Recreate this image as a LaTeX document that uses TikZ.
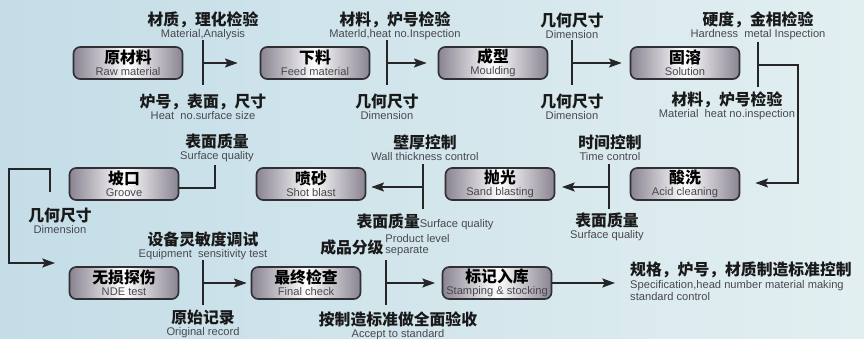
\documentclass[tikz,border=0pt]{standalone}
\usepackage{fontspec}
\setmainfont{Liberation Sans}
\newfontfamily\cjk{Noto Sans CJK SC}
\usetikzlibrary{positioning, calc, arrows.meta}
\definecolor{bgleft}{RGB}{196,221,231}
\definecolor{bgright}{RGB}{226,239,241}
\definecolor{boxedge}{RGB}{138,132,146}
\definecolor{boxline}{RGB}{48,48,52}
\definecolor{lncol}{RGB}{38,38,40}
\definecolor{engray}{RGB}{72,72,78}
\newcommand{\zh}[1]{{\cjk\bfseries\fontsize{13.5}{15}\selectfont #1}}
\newcommand{\en}[1]{{\fontsize{9.5}{10}\selectfont\color{engray}#1}}
\tikzset{
	procbox/.style={draw=boxline, line width=1.4pt, rounded corners=0.2cm, minimum width=3.27cm, minimum height=0.96cm, left color=boxedge, right color=boxedge, middle color=white, align=center, inner sep=0pt, font=\fontsize{9.5}{10.5}\selectfont},
	note/.style={align=center, inner sep=0pt, text=black!90, font=\fontsize{9.5}{10.5}\selectfont},
	link/.style={draw=lncol, line width=1.3pt},
	flow/.style={link, -{Stealth[length=0.38cm, width=0.27cm, inset=0.07cm]}},
}

\begin{document}
\begin{tikzpicture}[x=0.03cm, y=-0.03cm]
		\fill[left color=bgleft, right color=bgright] (0,0) rectangle (864,339);
		\useasboundingbox (0,0) rectangle (864,339);
		
		\node[procbox] (yuancailiao) at (128,63) {\zh{原材料}\\\en{Raw material}};
		\node[procbox] (xialiao) at (315,63) {\zh{下料}\\\en{Feed material}};
		\node[procbox] (chengxing) at (493,63) {\zh{成型}\\\en{Moulding}};
		\node[procbox] (gurong) at (685,63) {\zh{固溶}\\\en{Solution}};
		\node[procbox] (suanxi) at (685,184) {\zh{酸洗}\\\en{Acid cleaning}};
		\node[procbox] (paoguang) at (500,184) {\zh{抛光}\\\en{Sand blasting}};
		\node[procbox] (pensha) at (311,184) {\zh{喷砂}\\\en{Shot blast}};
		\node[procbox] (pokou) at (124,184) {\zh{坡口}\\\en{Groove}};
		\node[procbox] (wusun) at (124,283) {\zh{无损探伤}\\\en{NDE test}};
		\node[procbox] (zuizhong) at (306,283) {\zh{最终检查}\\\en{Final check}};
		\node[procbox] (biaoji) at (497,283) {\zh{标记入库}\\\en{Stamping \& stocking}};
		
		\coordinate (j1) at (203,63);
		\coordinate (j2) at (387,63);
		\coordinate (j3) at (572,63);
		\coordinate (j4) at (758,65);
		\coordinate (j5) at (609,187);
		\coordinate (j6) at (423,187);
		\coordinate (j7) at (203,283);
		\coordinate (j8) at (386,283);
		\foreach \j in {j1,j2,j3,j4,j5,j6,j7,j8}
			\draw[link] ($(\j)+(0,-23)$) -- ($(\j)+(0,22)$);
		
		\draw[flow, shorten >=0.66cm] (j1) -- (xialiao);
		\draw[flow, shorten >=0.33cm] (j2) -- (chengxing);
		\draw[flow, shorten >=0.24cm] (j3) -- (gurong);
		\coordinate (r1) at (798,183);
		\draw[flow, shorten >=0.45cm] (j4) -| (r1) -- (suanxi.east |- r1);
		\draw[flow, shorten >=0.2cm] (j5) -- (paoguang.east |- j5);
		\draw[flow, shorten >=0.15cm] (j6) -- (pensha.east |- j6);
		\coordinate (p1) at (215,165);
		\draw[link] ($(pokou.east)+(0,4)$) -| (p1);
		\coordinate (l1) at (50,192);
		\coordinate (l2) at (9,169);
		\coordinate (l3) at (55,263);
		\draw[flow] (l1) |- (l2) |- (l3);
		\draw[flow, shorten >=0.12cm] (j7) -- (zuizhong);
		\draw[flow, shorten >=0.2cm] (j8) -- (biaoji);
		\coordinate (e1) at (615,283);
		\draw[flow] (biaoji) -- (e1);
		
		\node[note] (t1) at (203,26) {\zh{材质，理化检验}\\\en{Material,Analysis}};
		\node[note] (b1) at (203,107) {\zh{炉号，表面，尺寸}\\\en{Heat\ \ no.surface size}};
		\node[note] (t2) at (395,26) {\zh{材料，炉号检验}\\\en{Materld,heat no.Inspection}};
		\node[note] (b2) at (387,107) {\zh{几何尺寸}\\\en{Dimension}};
		\node[note] (t3) at (572,26) {\zh{几何尺寸}\\\en{Dimension}};
		\node[note] (b3) at (572,107) {\zh{几何尺寸}\\\en{Dimension}};
		\node[note] (t4) at (758,26) {\zh{硬度，金相检验}\\\en{Hardness\ \ metal Inspection}};
		\node[note] (b4) at (727,106) {\zh{材料，炉号检验}\\\en{Material\ \ heat no.inspection}};
		
		\node[note] (t5) at (217,148) {\zh{表面质量}\\\en{Surface quality}};
		\node[note] (t6) at (425,148) {\zh{壁厚控制}\\\en{Wall thickness control}};
		\node[note] (t7) at (610,148) {\zh{时间控制}\\\en{Time control}};
		\node[note] (b5) at (60,221) {\zh{几何尺寸}\\\en{Dimension}};
		\node[note] (b6) at (425,222) {\zh{表面质量}\en{Surface quality}};
		\node[note] (b7) at (607,227) {\zh{表面质量}\\\en{Surface quality}};
		
		\node[note] (t8) at (203,246) {\zh{设备灵敏度调试}\\\en{Equipment\ \ sensitivity test}};
		\node[note] (t9) at (385,245) {\zh{成品分级}\,\en{\shortstack[l]{Product level\\separate}}};
		\node[note] (b8) at (203,324) {\zh{原始记录}\\\en{Original record}};
		\node[note] (b9) at (398,326) {\zh{按制造标准做全面验收}\\\en{Accept to standard}};
		\node[note, align=left, anchor=north west] (spec) at (630,262) {\zh{规格，炉号，材质制造标准控制}\\\en{Specification,head number material making}\\\en{standard control}};
	\end{tikzpicture}
\end{document}
